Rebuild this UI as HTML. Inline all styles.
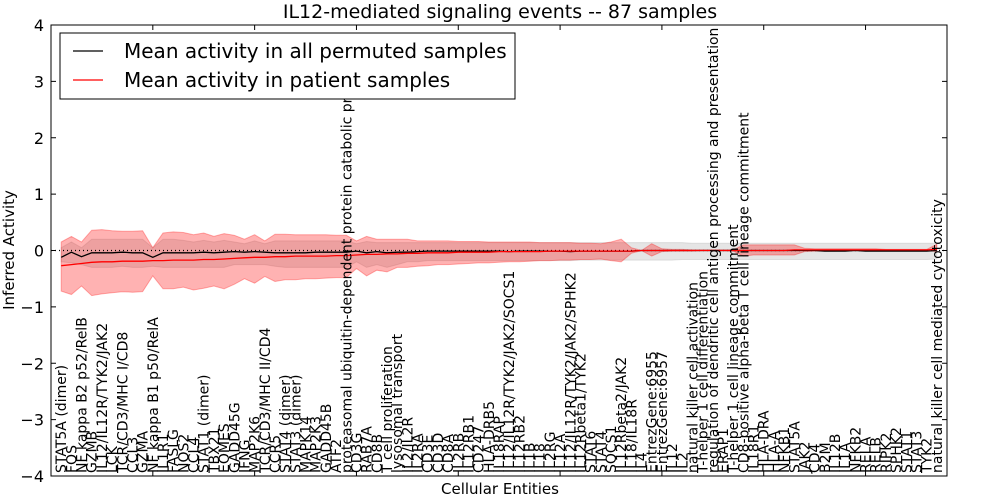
<!DOCTYPE html>
<html><head><meta charset="utf-8"><style>
body{margin:0;background:#fff;}
svg{display:block;font-family:"DejaVu Sans","Liberation Sans",sans-serif;}
</style></head><body>
<svg id="chart" width="1000" height="500" viewBox="0 0 1000 500"></svg>
<script>
const categories=["STAT5A (dimer)","FOS","NF kappa B2 p52/RelB","GZMB","IL12/IL12R/TYK2/JAK2","LCK","TCR/CD3/MHC I/CD8","CCL3","GZMA","NF kappa B1 p50/RelA","IL1R1","FASLG","NOS2","CCL4","STAT1 (dimer)","TBX21","EOMES","GADD45G","IFNG","MAP2K6","TCR/CD3/MHC II/CD4","CCR5","STAT4 (dimer)","STAT3 (dimer)","MAPK14","MAP2K3","GADD45B","ATF2","proteasomal ubiquitin-dependent protein catabolic pr","CD3G","RAB7A","CD8B","T cell proliferation","lysosomal transport","IL2/IL2R","IL2RA","CD3E","CD3D","CD8A","IL2RB","IL12RB1","CD247","HLA-DRB5","IL18RAP","IL12/IL12R/TYK2/JAK2/SOCS1","IL12RB2","IL1B","IL18","IL2RG","IL12A","IL12/IL12R/TYK2/JAK2/SPHK2","IL12Rbeta1/TYK2","STAT6","STAT4","SOCS1","IL12Rbeta2/JAK2","IL18/IL18R","IL4","EntrezGene:6955","EntrezGene:6957","IL12","IL2","natural killer cell activation","T-helper 1 cell differentiation","regulation of dendritic cell antigen processing and presentation","ERAP1","T-helper 1 cell lineage commitment","CD8-positive alpha-beta T cell lineage commitment","IL18R1","HLA-DRA","HLA-A","NFKB1","STAT5A","JAK2","CD4","B2M","IL12B","IL1A","NFKB2","RELA","RELB","RIPK2","SPHK2","STAT1","STAT3","TYK2","natural killer cell mediated cytotoxicity"];
const patientMean=[-0.27,-0.25,-0.23,-0.21,-0.2,-0.2,-0.19,-0.19,-0.19,-0.18,-0.18,-0.17,-0.17,-0.17,-0.16,-0.16,-0.15,-0.14,-0.13,-0.12,-0.12,-0.11,-0.11,-0.1,-0.1,-0.1,-0.1,-0.09,-0.09,-0.08,-0.07,-0.07,-0.06,-0.06,-0.05,-0.05,-0.04,-0.04,-0.04,-0.03,-0.03,-0.03,-0.03,-0.02,-0.02,-0.02,-0.02,-0.02,-0.01,-0.01,-0.01,-0.01,-0.01,-0.01,-0.01,-0.01,-0.01,0,0,0,0,0,0,0,0,0,0,0,0,0,0,0,0.01,0.01,0.01,0.01,0.01,0.01,0.01,0.01,0.01,0.01,0.01,0.01,0.01,0.01,0.02];
const permMean=[-0.12,-0.03,-0.11,-0.04,-0.04,-0.04,-0.03,-0.04,-0.04,-0.12,-0.04,-0.04,-0.04,-0.04,-0.03,-0.04,-0.03,-0.02,-0.03,-0.02,-0.03,-0.04,-0.04,-0.04,-0.04,-0.03,-0.03,-0.03,-0.03,-0.01,-0.04,-0.02,-0.04,-0.03,-0.03,-0.02,-0.01,-0.01,-0.01,-0.01,-0.01,-0.01,-0.01,-0.01,-0.02,-0.01,-0.01,-0.01,-0.01,-0.01,-0.02,-0.01,-0.01,-0.01,-0.01,-0.01,-0.01,0,0,0,0,0,0,0,0,0,0,0,0,0,0,0,0,0,0,-0.01,-0.01,-0.01,0,-0.01,-0.01,-0.01,-0.01,-0.01,-0.01,-0.01,0];
const patientUpper=[0.15,0.25,0.15,0.36,0.37,0.35,0.34,0.34,0.35,0.05,0.31,0.33,0.32,0.28,0.31,0.25,0.3,0.27,0.2,0.28,0.17,0.29,0.29,0.28,0.28,0.28,0.28,0.27,0.27,0.17,0.25,0.2,0.2,0.2,0.2,0.17,0.17,0.17,0.17,0.16,0.16,0.16,0.15,0.15,0.15,0.15,0.15,0.14,0.14,0.14,0.14,0.13,0.13,0.12,0.15,0.2,0.05,0.0,0.12,0.03,0.02,0.02,0.01,0.01,0.01,0.01,0.01,0.1,0.1,0.1,0.1,0.1,0.1,0.04,0.03,0.03,0.03,0.03,0.03,0.03,0.03,0.02,0.02,0.02,0.02,0.02,0.11];
const patientLower=[-0.72,-0.78,-0.63,-0.8,-0.77,-0.75,-0.73,-0.74,-0.73,-0.45,-0.68,-0.68,-0.65,-0.7,-0.67,-0.63,-0.68,-0.6,-0.5,-0.58,-0.46,-0.55,-0.52,-0.52,-0.5,-0.5,-0.49,-0.48,-0.48,-0.32,-0.45,-0.35,-0.38,-0.3,-0.3,-0.28,-0.27,-0.25,-0.25,-0.24,-0.23,-0.22,-0.22,-0.21,-0.2,-0.2,-0.19,-0.18,-0.18,-0.17,-0.17,-0.16,-0.16,-0.15,-0.18,-0.2,-0.05,0,-0.1,-0.02,-0.01,-0.01,-0.01,0,0,0,-0.01,-0.1,-0.08,-0.08,-0.08,-0.08,-0.08,-0.02,-0.01,-0.01,-0.01,0,0,0,0,0,0,0,0,0,-0.02];
const permUpper=[0.05,0.15,0.05,0.2,0.2,0.2,0.2,0.2,0.2,0.05,0.2,0.2,0.18,0.15,0.18,0.15,0.18,0.15,0.12,0.17,0.12,0.17,0.17,0.17,0.17,0.17,0.17,0.17,0.17,0.12,0.16,0.14,0.14,0.14,0.14,0.14,0.14,0.14,0.14,0.14,0.14,0.14,0.14,0.14,0.14,0.14,0.14,0.14,0.14,0.14,0.14,0.14,0.14,0.14,0.14,0.14,0.14,0.14,0.14,0.14,0.14,0.14,0.13,0.13,0.13,0.13,0.13,0.13,0.13,0.13,0.13,0.13,0.13,0.13,0.13,0.13,0.13,0.13,0.13,0.13,0.13,0.13,0.13,0.13,0.13,0.13,0.13];
const permLower=[-0.2,-0.22,-0.25,-0.3,-0.3,-0.3,-0.28,-0.3,-0.3,-0.28,-0.3,-0.3,-0.3,-0.3,-0.3,-0.3,-0.3,-0.25,-0.25,-0.25,-0.25,-0.28,-0.3,-0.3,-0.3,-0.3,-0.3,-0.3,-0.3,-0.2,-0.3,-0.25,-0.3,-0.25,-0.2,-0.2,-0.18,-0.18,-0.18,-0.18,-0.18,-0.18,-0.18,-0.18,-0.18,-0.18,-0.18,-0.18,-0.18,-0.18,-0.18,-0.17,-0.17,-0.17,-0.17,-0.17,-0.17,-0.17,-0.17,-0.17,-0.17,-0.16,-0.16,-0.16,-0.16,-0.16,-0.16,-0.16,-0.16,-0.16,-0.16,-0.16,-0.16,-0.16,-0.16,-0.16,-0.16,-0.16,-0.16,-0.16,-0.16,-0.16,-0.16,-0.16,-0.16,-0.16,-0.15];
const yTicks=[4,3,2,1,0,-1,-2,-3,-4];
const yTickLabels=["4","3","2","1","0","\u22121","\u22122","\u22123","\u22124"];

const NS="http://www.w3.org/2000/svg";
const svg=document.getElementById('chart');
const L=51,R=947,T=25,B=476;
const xs=i=>L+(i+1)*(R-L)/88;
const ys=v=>T+(4-v)*(B-T)/8;
function mk(tag,attrs,parent){const e=document.createElementNS(NS,tag);for(const k in attrs)e.setAttribute(k,attrs[k]);(parent||svg).appendChild(e);return e;}
function bandPath(up,lo){let d='';up.forEach((v,i)=>{d+=(i?'L':'M')+xs(i).toFixed(1)+','+ys(v).toFixed(1);});for(let i=lo.length-1;i>=0;i--)d+='L'+xs(i).toFixed(1)+','+ys(lo[i]).toFixed(1);return d+'Z';}
function linePath(a){return a.map((v,i)=>(i?'L':'M')+xs(i).toFixed(1)+','+ys(v).toFixed(1)).join('');}

const title=mk('text',{x:500,y:18,'text-anchor':'middle','font-size':19});
title.textContent='IL12-mediated signaling events -- 87 samples';



const pb=mk('path',{d:bandPath(permUpper,permLower),fill:'#999','fill-opacity':0.25,stroke:'#999','stroke-opacity':0.25});


const rb=mk('path',{d:bandPath(patientUpper,patientLower),fill:'#ff0000','fill-opacity':0.3,stroke:'#ff0000','stroke-opacity':0.3});



const zl=mk('line',{x1:L,x2:R,y1:ys(0),y2:ys(0),stroke:'#000','stroke-dasharray':'1,3','stroke-width':1.2});



const bl=mk('path',{d:linePath(permMean),fill:'none',stroke:'#000','stroke-width':1.3});


const rl=mk('path',{d:linePath(patientMean),fill:'none',stroke:'#ff0000','stroke-width':1.3});



categories.forEach((c,i)=>{
  const t=mk('text',{transform:`translate(${(xs(i)+5).toFixed(1)},473) rotate(-90)`,'font-size':14});
  t.textContent=c;
  
  
});

const frame=mk('rect',{x:L,y:T,width:R-L,height:B-T,fill:'none',stroke:'#000','stroke-width':1});



yTicks.forEach((v,i)=>{
  mk('line',{x1:L,x2:L+5,y1:ys(v),y2:ys(v),stroke:'#000'});
  mk('line',{x1:R-5,x2:R,y1:ys(v),y2:ys(v),stroke:'#000'});
  const t=mk('text',{x:L-7,y:ys(v)+6,'text-anchor':'end','font-size':16});
  t.textContent=yTickLabels[i];
  
  
});
for(let k=0;k<=80;k+=10){
  const x=L+k*(R-L)/88;
  mk('line',{x1:x,x2:x,y1:T,y2:T+5,stroke:'#000'});
  mk('line',{x1:x,x2:x,y1:B-5,y2:B,stroke:'#000'});
}

const yt=mk('text',{transform:'translate(14,250) rotate(-90)','text-anchor':'middle','font-size':15});
yt.textContent='Inferred Activity';


const xt=mk('text',{x:500,y:494,'text-anchor':'middle','font-size':15});
xt.textContent='Cellular Entities';



const lg=mk('g',{});


mk('rect',{x:60,y:33,width:455,height:66,fill:'#fff',stroke:'#000'},lg);
mk('line',{x1:73,x2:103,y1:51,y2:51,stroke:'#000','stroke-width':1.3},lg);
mk('line',{x1:73,x2:103,y1:80,y2:80,stroke:'#ff0000','stroke-width':1.3},lg);
const l1=mk('text',{x:124,y:58,'font-size':20},lg);
l1.textContent='Mean activity in all permuted samples';


const l2=mk('text',{x:124,y:87,'font-size':20},lg);
l2.textContent='Mean activity in patient samples';


</script>
</body></html>
